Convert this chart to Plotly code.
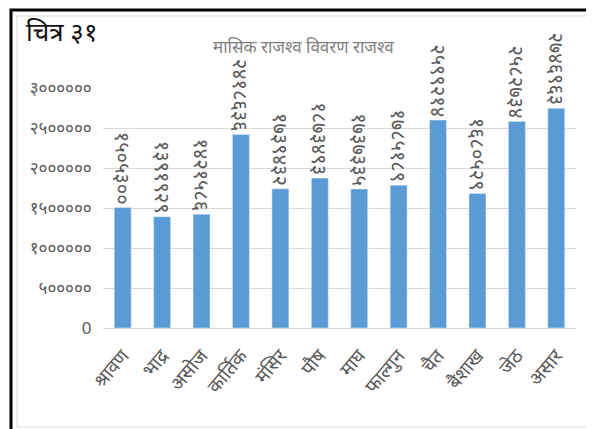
import plotly.graph_objects as go

months = ["श्रावण", "भाद्र", "असोज", "कार्तिक", "मंसिर", "पौष", "माघ",
          "फाल्गुन", "चैत", "बैशाख", "जेठ", "असार"]
revenue = [1505300, 1391929, 1421586, 2418636, 1739432, 1873493, 1737335,
           1785189, 2599214, 1680529, 2582734, 2746963]
tick_vals = [0, 500000, 1000000, 1500000, 2000000, 2500000, 3000000]

DEV = str.maketrans("0123456789", "०१२३४५६७८९")
def dev(n):
    return str(n).translate(DEV)

tick_text = ["0"] + [dev(v) for v in tick_vals[1:]]
bar_text = [dev(v) for v in revenue]

OFF = 8  # page body margin
W, H = 586, 421
L, R, T, B = 95, 18, 80, 101

def px(x):
    return (x - OFF - L) / (W - L - R)
def py(y):
    return (H - B - (y - OFF)) / (H - T - B)

fig = go.Figure(go.Bar(
    x=months, y=revenue, text=bar_text, textposition="outside",
    textangle=90, constraintext="none", cliponaxis=False,
    marker_color="#5B9BD5", width=0.43,
    textfont=dict(size=20, color="#595959"),
))

fig.update_layout(
    width=W, height=H, margin=dict(l=L, r=R, t=T, b=B),
    paper_bgcolor="white", plot_bgcolor="white", showlegend=False,
    font=dict(family="Noto Sans", color="#595959"),
)
fig.update_xaxes(tickangle=-50, tickfont=dict(size=19, color="#595959"),
                 showline=True, linecolor="#D9D9D9", ticks="outside", ticklen=8,
                 tickcolor="white", showgrid=False)
fig.update_yaxes(range=[0, 3000000], tickvals=tick_vals, ticktext=tick_text,
                 tickfont=dict(size=17, color="#595959"), showgrid=True,
                 gridcolor="#D9D9D9", zeroline=False, ticks="outside", ticklen=7,
                 tickcolor="white")

fig.add_annotation(text="<i>चित्र ३१</i>", x=px(24), y=py(31), xref="paper", yref="paper",
                   xanchor="left", yanchor="middle", showarrow=False,
                   font=dict(size=26, color="#111111"))
fig.add_annotation(text="मासिक राजश्व विवरण राजश्व", x=px(303), y=py(47), xref="paper",
                   yref="paper", xanchor="center", yanchor="middle", showarrow=False,
                   font=dict(size=17, color="#7F7F7F"))

fig.add_shape(type="path", xref="paper", yref="paper",
              path=f"M {px(11)} {py(440)} L {px(11)} {py(10)} L {px(610)} {py(10)}",
              line=dict(color="black", width=3))
fig.add_shape(type="path", xref="paper", yref="paper",
              path=f"M {px(17)} {py(427)} L {px(17)} {py(16)} L {px(610)} {py(16)}",
              line=dict(color="#D9D9D9", width=1))
fig.add_shape(type="line", xref="paper", yref="paper",
              x0=px(17), x1=px(610), y0=py(427), y1=py(427),
              line=dict(color="#D9D9D9", width=1))

fig.write_html("out.html")
